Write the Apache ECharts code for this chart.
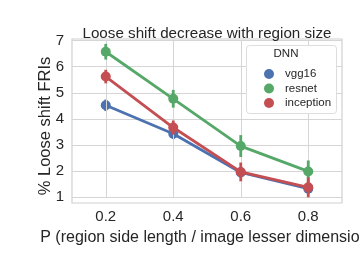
<!DOCTYPE html>
<html><head><meta charset="utf-8">
<script src="https://cdn.jsdelivr.net/npm/echarts@6/dist/echarts.min.js"></script>
<style>html,body{margin:0;padding:0;background:#fff}#c{width:360px;height:254px}</style>
</head><body><div id="c"></div>
<script>
var categories = ['0.2', '0.4', '0.6', '0.8'];
var seriesNames = ['vgg16', 'resnet', 'inception'];
var vgg16 = [4.52, 3.43, 1.95, 1.33];
var resnet = [6.57, 4.77, 2.96, 1.99];
var inception = [5.62, 3.67, 1.97, 1.38];
var vgg16Err = [0.22, 0.2, 0.2, 0.18];
var resnetErr = [0.3, 0.34, 0.42, 0.42];
var inceptionErr = [0.26, 0.27, 0.36, 0.38];
var yTicks = [1, 2, 3, 4, 5, 6, 7];
var colors = ['#4C72B0', '#55A868', '#C44E52'];
var FONT = 'Liberation Sans, Arial, sans-serif';

var values = [vgg16, resnet, inception];
var errs = [vgg16Err, resnetErr, inceptionErr];

var series = [];
values.forEach(function (vals, k) {
  series.push({
    name: seriesNames[k], type: 'line', data: vals,
    symbol: 'circle', symbolSize: 10, z: 3 + k * 2,
    lineStyle: { width: 2.8, color: colors[k] },
    itemStyle: { color: colors[k] },
    emphasis: { disabled: true }, animation: false
  });
  series.push({
    name: seriesNames[k], type: 'custom', z: 4 + k * 2,
    data: vals.map(function (v, i) { return [i, v - errs[k][i], v + errs[k][i]]; }),
    renderItem: function (params, api) {
      var a = api.coord([api.value(0), api.value(1)]);
      var b = api.coord([api.value(0), api.value(2)]);
      return { type: 'line', shape: { x1: a[0], y1: a[1], x2: b[0], y2: b[1] },
        style: { stroke: colors[k], lineWidth: 2.8 } };
    },
    animation: false, silent: true
  });
});
series.push({
  type: 'line', data: [], silent: true, z: 1,
  markLine: {
    silent: true, symbol: 'none', animation: false,
    label: { show: false },
    lineStyle: { color: '#d5d5d5', type: 'solid', width: 1 },
    data: categories.map(function (c) { return { xAxis: c }; })
  }
});

var chart = echarts.init(document.getElementById('c'), null, { renderer: 'canvas' });
chart.setOption({
  backgroundColor: '#fff',
  animation: false,
  title: {
    text: 'Loose shift decrease with region size', left: 202, top: 21, textAlign: 'center',
    textStyle: { fontFamily: FONT, fontSize: 15.2, fontWeight: 'normal', color: '#262626' }
  },
  grid: { left: 72, right: 18, top: 40.5, bottom: 56.7, outerBoundsMode: 'none', containLabel: false },
  xAxis: {
    type: 'category', data: categories, boundaryGap: true,
    axisLine: { show: false }, axisTick: { show: false },
    splitLine: { show: false },
    axisLabel: { fontFamily: FONT, fontSize: 15, color: '#262626', margin: 12 },
    name: 'P (region side length / image lesser dimension)', nameLocation: 'middle', nameGap: 28,
    nameTextStyle: { fontFamily: FONT, fontSize: 16, color: '#262626' }
  },
  yAxis: {
    type: 'value', min: 1, max: 7, interval: 1,
    axisLine: { show: false }, axisTick: { show: false },
    splitLine: { lineStyle: { color: '#d5d5d5', width: 1 } },
    axisLabel: { fontFamily: FONT, fontSize: 15, color: '#262626', margin: 8,
      customValues: yTicks }
  },
  legend: {
    data: seriesNames, orient: 'vertical', left: 259, top: 63, z: 20,
    icon: 'circle', itemWidth: 10, itemHeight: 10, itemGap: 2.5,
    textStyle: { fontFamily: FONT, fontSize: 11.5, color: '#262626', padding: [0, 0, 0, 6] },
    selectedMode: false
  },
  graphic: [
    { type: 'rect', shape: { x: 72, y: 39, width: 270, height: 164 }, z: 0,
      style: { fill: 'none', stroke: '#d0d0d0', lineWidth: 1.2 }, silent: true },
    { type: 'rect', shape: { x: 246.5, y: 45.5, width: 90, height: 68, r: 3 }, z: 15,
      style: { fill: '#ffffff', stroke: '#dddddd', lineWidth: 1 }, silent: true },
    { type: 'text', x: 286, y: 54, z: 21,
      style: { text: 'DNN', fontFamily: FONT, fontSize: 11.5, fill: '#262626', align: 'center', verticalAlign: 'middle' } },
    { type: 'text', x: 45.5, y: 126, rotation: Math.PI / 2, z: 21,
      style: { text: '% Loose shift FRIs', fontFamily: FONT, fontSize: 16.5, fill: '#262626', align: 'center', verticalAlign: 'middle' } }
  ],
  series: series
});
</script></body></html>
